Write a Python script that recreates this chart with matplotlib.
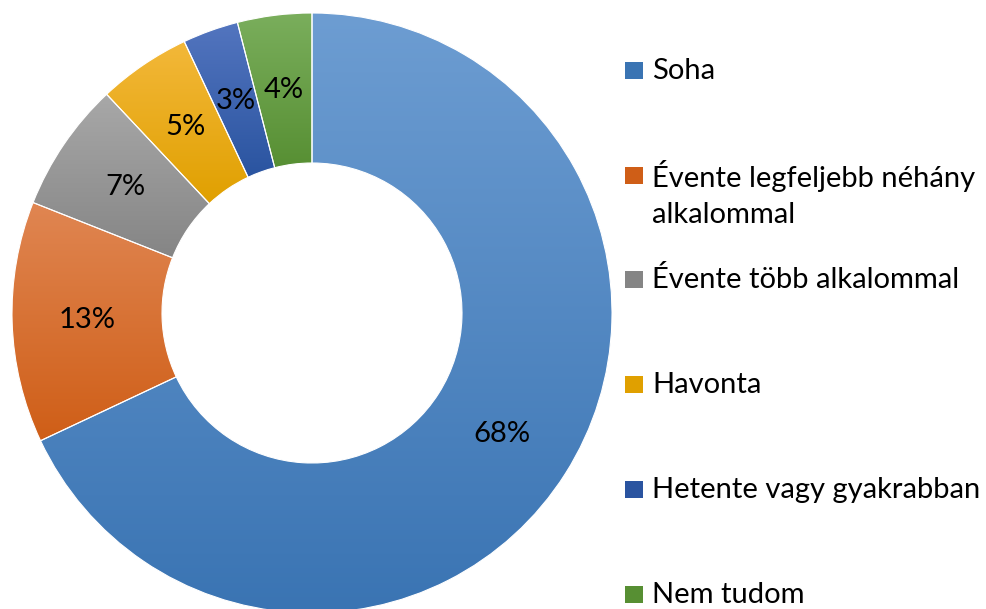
import numpy as np
import matplotlib
matplotlib.use("Agg")
import matplotlib.pyplot as plt
from matplotlib.colors import to_rgb
from matplotlib.patches import Rectangle

plt.rcParams['font.family'] = ['Lato', 'DejaVu Sans']

# adatok
labels = ['Soha', 'Évente legfeljebb néhány\nalkalommal', 'Évente több alkalommal',
          'Havonta', 'Hetente vagy gyakrabban', 'Nem tudom']
values = [68, 13, 7, 5, 3, 4]
top_colors = ['#6D9DD2', '#E08652', '#A8A8A8', '#F3B83A', '#5375BF', '#7AAE5C']
bottom_colors = ['#3A74B3', '#CF5E17', '#858585', '#E0A000', '#2A54A0', '#578F33']
legend_base = [79, 184, 288, 393, 498, 603]  # első sor alapvonala, képpont felülről
line_gap = 39

W, H = 986, 609
fig = plt.figure(figsize=(W / 100, H / 100), dpi=100)
cx, cy, R = 312, 313, 300
ax = fig.add_axes([(cx - R) / W, (H - cy - R) / H, 2 * R / W, 2 * R / H])

wedges, texts, autotexts = ax.pie(
    values, startangle=90, counterclock=False, radius=1,
    autopct='%1.0f%%', pctdistance=0.75,
    wedgeprops=dict(width=0.5, facecolor='none', edgecolor='white', linewidth=0.8),
    textprops=dict(fontsize=21, color='black'))

# színátmenet minden szeletre
for w, c1, c2 in zip(wedges, top_colors, bottom_colors):
    w.set_zorder(3)
    ext = w.get_path().get_extents()
    t = np.linspace(0, 1, 256).reshape(-1, 1, 1)
    img = (1 - t) * np.array(to_rgb(c1)) + t * np.array(to_rgb(c2))
    im = ax.imshow(img, extent=(ext.x0, ext.x1, ext.y0, ext.y1), origin='upper',
                   aspect='auto', zorder=1, interpolation='bilinear')
    im.set_clip_path(w)

for t in autotexts:
    t.set_zorder(5)

ax.set_xlim(-1, 1)
ax.set_ylim(-1, 1)
ax.set_aspect('equal')
ax.axis('off')

# jelmagyarázat
for lab, c1, c2, y in zip(labels, top_colors, bottom_colors, legend_base):
    fig.patches.append(Rectangle((625 / W, 1 - y / H), 18 / W, 17 / H,
                                 transform=fig.transFigure, facecolor=c2, edgecolor='none'))
    ty = y + line_gap * lab.count('\n')  # utolsó sor alapvonala
    fig.text(652 / W, 1 - ty / H, lab, fontsize=21, va='baseline', ha='left',
             linespacing=1.5)

fig.savefig('out.png', dpi=100)
